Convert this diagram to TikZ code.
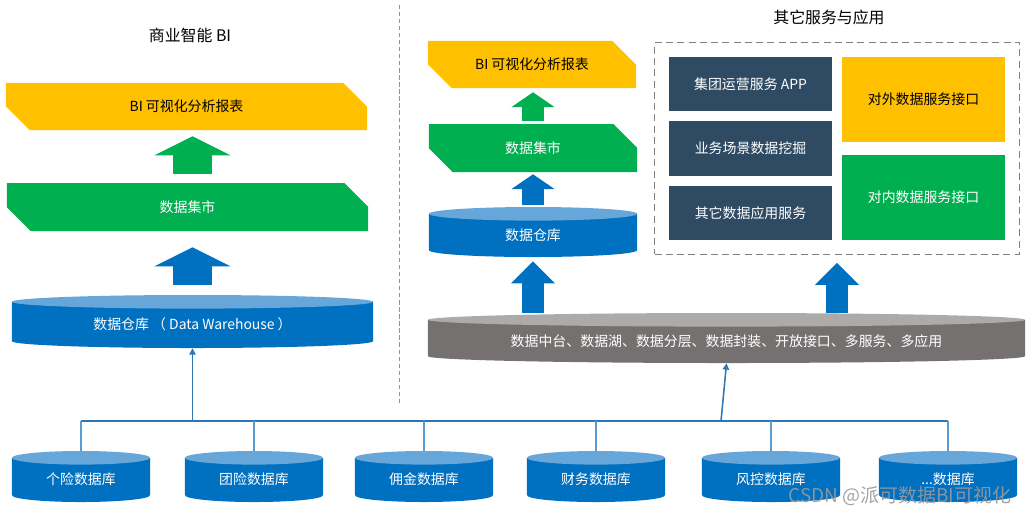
\documentclass[tikz,border=0pt]{standalone}
\usepackage{fontspec}
\setmainfont{Noto Sans CJK SC}
\usetikzlibrary{arrows.meta,calc,fit}
\definecolor{biyellow}{HTML}{FFC000}
\definecolor{martgreen}{HTML}{00B050}
\definecolor{whblue}{HTML}{0070C0}
\definecolor{whtop}{HTML}{66A6D8}
\definecolor{navy}{HTML}{2F4B64}
\definecolor{platgray}{HTML}{767171}
\definecolor{plattop}{HTML}{AEAAAA}
\definecolor{linkblue}{HTML}{2E75B6}
\definecolor{dropblue}{HTML}{5B9BD5}
\definecolor{divgray}{HTML}{8497B0}
\definecolor{boxgray}{HTML}{7F7F7F}

\begin{document}
\begin{tikzpicture}[x=0.025cm,y=-0.025cm,
    every node/.style={font=\fontsize{9.9}{12}\selectfont,inner sep=0pt},
    title/.style={font=\fontsize{11.3}{13}\selectfont},
    banner/.style 2 args={fill=white,text=#2,
      path picture={\fill[#1] (path picture bounding box.north west)
        -- ([xshift=-0.59cm]path picture bounding box.north east)
        -- ([yshift=-0.59cm]path picture bounding box.north east)
        -- (path picture bounding box.south east)
        -- ([xshift=0.59cm]path picture bounding box.south west)
        -- ([yshift=0.59cm]path picture bounding box.south west) -- cycle;}},
    cyl/.style 2 args={fill=white,text=white,text height=12.6pt,text depth=1.2pt,
      path picture={\fill[#1] let \p1=(path picture bounding box.south west),
          \p2=(path picture bounding box.north east) in
          (\x1,{\y2-0.17cm}) rectangle (\x2,{\y1+0.17cm})
          ({(\x1+\x2)/2},{\y1+0.17cm}) ellipse [x radius={(\x2-\x1)/2},y radius=0.17cm];
        \fill[#2] let \p1=(path picture bounding box.south west),
          \p2=(path picture bounding box.north east) in
          ({(\x1+\x2)/2},{\y2-0.17cm}) ellipse [x radius={(\x2-\x1)/2},y radius=0.17cm];}},
    db/.style={cyl={whblue}{whtop},minimum width=3.45cm,minimum height=1.275cm},
    svc/.style={fill=navy,text=white,minimum width=4.075cm,minimum height=1.35cm},
    port/.style={minimum width=4.075cm,minimum height=2.125cm},
    thickup/.style={line width=0.95cm,-{Triangle[width=1.9cm,length=0.475cm,line width=0pt]}},
    thinup/.style={line width=0.53cm,-{Triangle[width=1.08cm,length=0.37cm,line width=0pt]}},
    midup/.style={line width=0.55cm,-{Triangle[width=1.1cm,length=0.55cm,line width=0pt]}},
    bus/.style={draw=linkblue,line width=1pt},
    drop/.style={draw=dropblue,line width=1pt},
    feed/.style={draw=linkblue,line width=1.1pt,-{Triangle[width=4.5pt,length=4.5pt]}}]

    \useasboundingbox (0,0) rectangle (1030,515);

    \coordinate (divtop) at (399,5);
    \coordinate (divbot) at (399,405);
    \draw [divgray,line width=0.7pt,dash pattern=on 3pt off 2pt] (divtop) -- (divbot);

    \node [title] (bititle) at (190,35) {商业智能 BI};
    \node [banner={biyellow}{black},minimum width=9.025cm,minimum height=1.175cm] (bi1) at (186.5,106.5) {BI 可视化分析报表};
    \node [banner={martgreen}{white},minimum width=9.025cm,minimum height=1.2cm] (mart1) at (187.5,207) {数据集市};
    \node [cyl={whblue}{whtop},minimum width=9.025cm,minimum height=1.325cm] (dw1) at (192.5,321.5) {数据仓库 （ Data Warehouse ）};

    \node [title] (svctitle) at (829,17) {其它服务与应用};
    \node [banner={biyellow}{black},minimum width=5.2cm,minimum height=1.175cm] (bi2) at (532,64.5) {BI 可视化分析报表};
    \node [banner={martgreen}{white},minimum width=5.2cm,minimum height=1.2cm] (mart2) at (533,148) {数据集市};
    \node [cyl={whblue}{whtop},minimum width=5.2cm,minimum height=1.25cm] (dw2) at (533,232) {数据仓库};

    \node [svc] (app1) at (750.5,84) {集团运营服务 APP};
    \node [svc] (mining) at (750.5,148.5) {业务场景数据挖掘};
    \node [svc] (otherapp) at (750.5,213) {其它数据应用服务};
    \node [port,fill=biyellow] (outer) at (923.5,99.5) {对外数据服务接口};
    \node [port,fill=martgreen,text=white] (inner) at (923.5,197.5) {对内数据服务接口};
    \node [draw=boxgray,line width=0.8pt,dash pattern=on 5pt off 3pt,fit=(app1)(inner),inner sep=0.35cm] (svcbox) {};

    \node [cyl={platgray}{plattop},minimum width=14.925cm,minimum height=1.25cm] (platform) at (726.5,338) {数据中台、数据湖、数据分层、数据封装、开放接口、多服务、多应用};

    \node [db] (db1) at (81,476.5) {个险数据库};
    \node [db] (db2) at (254,476.5) {团险数据库};
    \node [db] (db3) at (424,476.5) {佣金数据库};
    \node [db] (db4) at (596,476.5) {财务数据库};
    \node [db] (db5) at (771,476.5) {风控数据库};
    \node [db] (db6) at (948,476.5) {...数据库};

    \draw [thickup,martgreen,shorten <=0.225cm,shorten >=0.15cm] (mart1.north -| dw1.center) -- (bi1.south -| dw1.center);
    \draw [thickup,whblue,shorten <=0.25cm,shorten >=0.4cm] (dw1.north) -- (mart1.south -| dw1.north);
    \draw [thinup,martgreen,shorten <=0.075cm,shorten >=0.1cm] (mart2.north -| dw2.center) -- (bi2.south -| dw2.center);
    \draw [thinup,whblue,shorten <=0.05cm,shorten >=0.05cm] (dw2.north) -- (mart2.south -| dw2.north);
    \draw [midup,whblue,shorten >=0.1cm] (platform.north -| dw2.south) -- (dw2.south);
    \draw [midup,whblue,shorten >=0.2cm] (platform.north -| svcbox.south) -- (svcbox.south);

    \coordinate (bus1) at (192.5,421);
    \coordinate (bus2) at (721,421);
    \draw [bus] (db1.north |- bus1) -- (db6.north |- bus1);
    \draw [drop] (db1.north) -- (db1.north |- bus1);
    \draw [drop] (db2.north) -- (db2.north |- bus1);
    \draw [drop] (db3.north) -- (db3.north |- bus1);
    \draw [drop] (db4.north) -- (db4.north |- bus1);
    \draw [drop] (db5.north) -- (db5.north |- bus1);
    \draw [drop] (db6.north) -- (db6.north |- bus1);
    \draw [feed] (bus1) -- (dw1.south);
    \draw [feed] (bus2) -- (platform.south);

    \node [font=\fontsize{13.5}{15}\selectfont,text=black!40,text opacity=0.9] (mark) at (900,496) {CSDN @派可数据BI可视化};

\end{tikzpicture}
\end{document}
